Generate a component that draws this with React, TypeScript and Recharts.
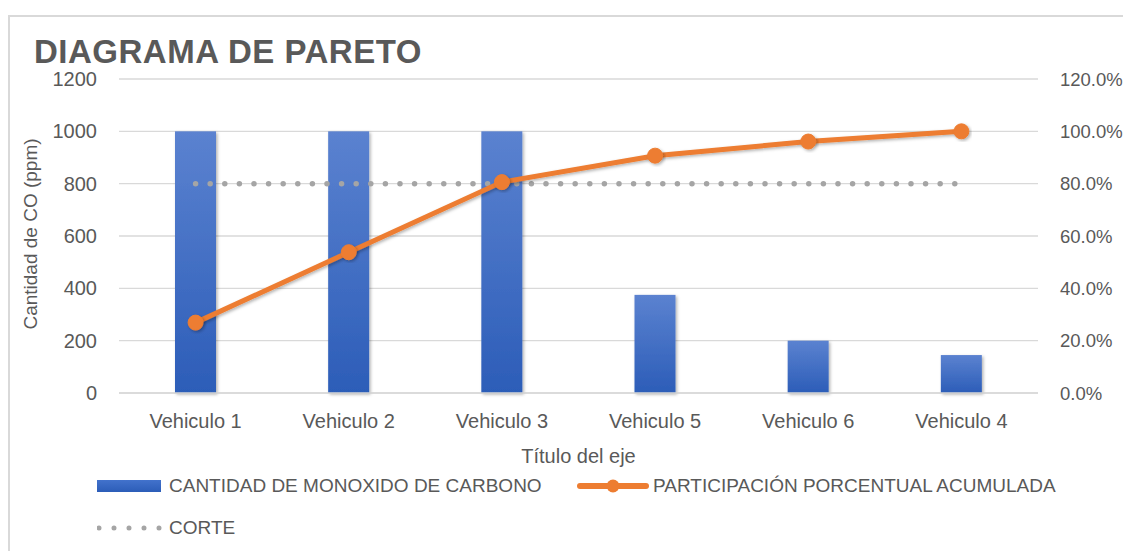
import {
  Bar,
  CartesianGrid,
  ComposedChart,
  Line,
  XAxis,
  YAxis,
} from "recharts";

const categories = [
  "Vehiculo 1",
  "Vehiculo 2",
  "Vehiculo 3",
  "Vehiculo 5",
  "Vehiculo 6",
  "Vehiculo 4",
];
const cantidadCO = [1000, 1000, 1000, 375, 200, 145];
const acumulado = [0.269, 0.538, 0.806, 0.907, 0.961, 1.0];
const corte = [0.8, 0.8, 0.8, 0.8, 0.8, 0.8];

const leftTicks = [0, 200, 400, 600, 800, 1000, 1200];
const rightTicks = [0, 0.2, 0.4, 0.6, 0.8, 1.0, 1.2];

const data = categories.map((name, i) => ({
  name,
  cantidad: cantidadCO[i],
  acumulado: acumulado[i],
  corte: corte[i],
}));

const textColor = "#595959";
const gridColor = "#D9D9D9";
const orange = "#ED7D31";
const gray = "#A5A5A5";
const font = "'Liberation Sans', Arial, sans-serif";

function formatPct(v: number) {
  return `${(v * 100).toFixed(1)}%`;
}

function BarShape(props: any) {
  const { x, y, width, height } = props;
  if (!height) return null;
  return (
    <rect
      x={x}
      y={y}
      width={width}
      height={height}
      fill="url(#barGrad)"
      filter="url(#softShadow)"
    />
  );
}

const legendRow = {
  position: "absolute" as const,
  height: 24,
  display: "flex",
  alignItems: "center",
  fontSize: 19,
  color: textColor,
  whiteSpace: "nowrap" as const,
};

export default function App() {
  return (
    <div
      style={{
        position: "relative",
        width: 1123,
        height: 543,
        overflow: "hidden",
        fontFamily: font,
        background: "#fff",
      }}
    >
      <div
        style={{
          position: "absolute",
          left: 0,
          top: 7,
          width: 1200,
          height: 600,
          border: `2px solid ${gridColor}`,
          boxSizing: "border-box",
        }}
      />
      <div
        style={{
          position: "absolute",
          left: 26,
          top: 24,
          fontSize: 33,
          fontWeight: 700,
          letterSpacing: 0.5,
          color: textColor,
          lineHeight: "40px",
          whiteSpace: "nowrap",
        }}
      >
        DIAGRAMA DE PARETO
      </div>
      <div
        style={{
          position: "absolute",
          left: 23,
          top: 226,
          transform: "translate(-50%, -50%) rotate(-90deg)",
          fontSize: 19,
          color: textColor,
          whiteSpace: "nowrap",
        }}
      >
        Cantidad de CO (ppm)
      </div>

      <div style={{ position: "absolute", left: 0, top: 0 }}>
        <ComposedChart
          width={1123}
          height={543}
          data={data}
          margin={{ top: 71, right: 0, bottom: 78, left: 0 }}
        >
          <defs>
            <linearGradient id="barGrad" x1="0" y1="0" x2="0" y2="1">
              <stop offset="0%" stopColor="#5B82D0" />
              <stop offset="100%" stopColor="#2C5DB8" />
            </linearGradient>
            <filter id="softShadow" x="-20%" y="-20%" width="140%" height="140%">
              <feDropShadow dx="1.5" dy="1.5" stdDeviation="1.5" floodColor="#000" floodOpacity="0.3" />
            </filter>
          </defs>
          <CartesianGrid
            yAxisId="left"
            vertical={false}
            stroke={gridColor}
            strokeWidth={1.4}
          />
          <XAxis
            dataKey="name"
            height={80}
            axisLine={{ stroke: gridColor, strokeWidth: 1.4 }}
            tickLine={false}
            tickSize={0}
            tickMargin={21}
            tick={{ fill: textColor, fontSize: 20, fontFamily: font }}
            interval={0}
            label={{
              value: "Título del eje",
              position: "insideBottom",
              offset: 10,
              fill: textColor,
              fontSize: 20,
              fontFamily: font,
            }}
          />
          <YAxis
            yAxisId="left"
            width={111}
            domain={[0, 1200]}
            ticks={leftTicks}
            axisLine={false}
            tickLine={false}
            tickSize={0}
            tickMargin={22}
            tick={{ fill: textColor, fontSize: 20, fontFamily: font }}
          />
          <YAxis
            yAxisId="right"
            orientation="right"
            width={93}
            domain={[0, 1.2]}
            ticks={rightTicks}
            tickFormatter={formatPct}
            axisLine={false}
            tickLine={false}
            tickSize={0}
            tickMargin={22}
            tick={{ fill: textColor, fontSize: 18.5, fontFamily: font, textAnchor: "start" }}
          />
          <Bar
            yAxisId="left"
            dataKey="cantidad"
            barSize={41}
            shape={BarShape}
            isAnimationActive={false}
          />
          <Line
            yAxisId="right"
            dataKey="corte"
            stroke={gray}
            strokeWidth={5.5}
            strokeDasharray="0 14.6"
            strokeLinecap="round"
            dot={false}
            activeDot={false}
            isAnimationActive={false}
          />
          <Line
            yAxisId="right"
            dataKey="acumulado"
            stroke={orange}
            strokeWidth={5}
            filter="url(#softShadow)"
            dot={{ r: 7.5, fill: orange, stroke: orange, strokeWidth: 1 }}
            activeDot={false}
            isAnimationActive={false}
          />
        </ComposedChart>
      </div>

      {/* legend */}
      <div style={{ ...legendRow, left: 89, top: 466 }}>
        <svg width={64} height={12} style={{ marginRight: 8 }}>
          <defs>
            <linearGradient id="legendGrad" x1="0" y1="0" x2="0" y2="1">
              <stop offset="0%" stopColor="#4272CC" />
              <stop offset="100%" stopColor="#2C5DB8" />
            </linearGradient>
          </defs>
          <rect x={0} y={0} width={64} height={12} fill="url(#legendGrad)" />
        </svg>
        <span>CANTIDAD DE MONOXIDO DE CARBONO</span>
      </div>
      <div style={{ ...legendRow, left: 569, top: 466 }}>
        <svg width={72} height={16} style={{ marginRight: 4 }}>
          <line x1={3} y1={8} x2={69} y2={8} stroke={orange} strokeWidth={6} strokeLinecap="round" />
          <circle cx={36} cy={8} r={6.5} fill={orange} />
        </svg>
        <span>PARTICIPACIÓN PORCENTUAL ACUMULADA</span>
      </div>
      <div style={{ ...legendRow, left: 89, top: 508 }}>
        <svg width={66} height={10} style={{ marginRight: 6 }}>
          <line x1={2} y1={5} x2={63} y2={5} stroke={gray} strokeWidth={5} strokeDasharray="0 15" strokeLinecap="round" />
        </svg>
        <span>CORTE</span>
      </div>
    </div>
  );
}
